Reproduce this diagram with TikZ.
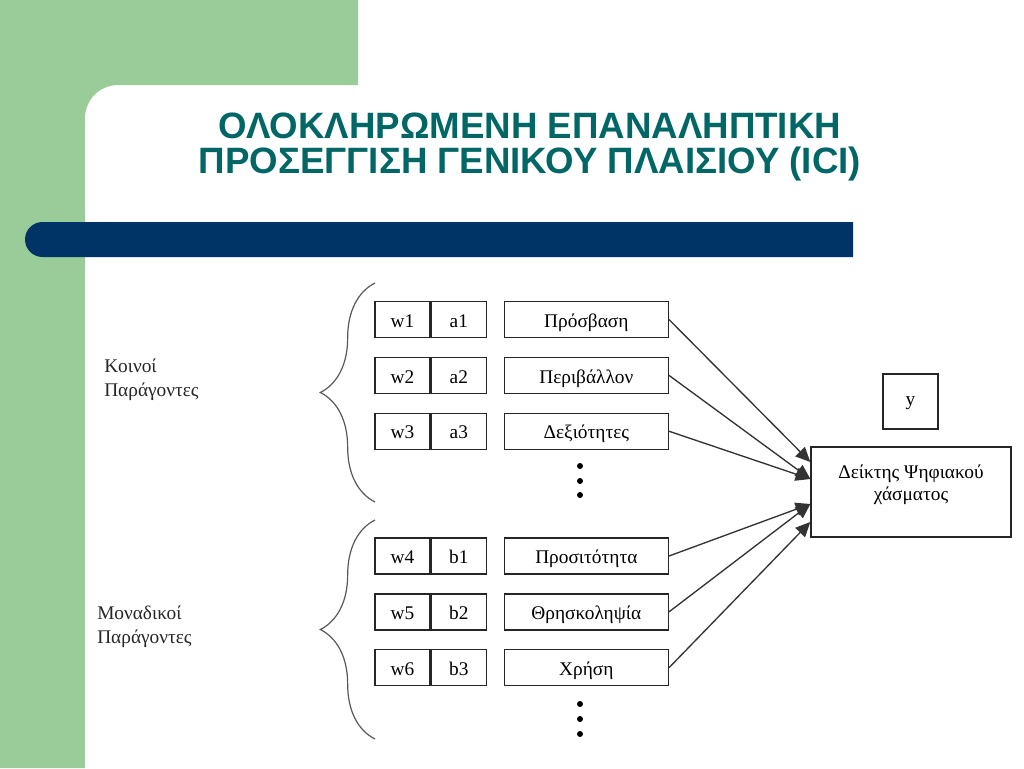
\documentclass[tikz,border=0pt]{standalone}
\usepackage{fontspec}
\setmainfont{Liberation Serif}
\newfontfamily\titlefont{Liberation Sans}
\usepackage{tikz}
\usetikzlibrary{arrows.meta, positioning, calc, decorations.pathreplacing}
\definecolor{slidegreen}{RGB}{153,204,153}
\definecolor{slideteal}{RGB}{0,102,102}
\definecolor{slidenavy}{RGB}{0,51,102}
\tikzstyle{cell} = [rectangle, draw=black!85, line width=1pt, minimum width=41.25pt,
    minimum height=27pt, inner sep=0pt, text centered, text height=12.5pt, text depth=1pt,
    font=\fontsize{14.5}{17}\selectfont]
\tikzstyle{factor} = [cell, minimum width=123pt]
\tikzstyle{vdot} = [circle, fill=black, inner sep=0pt, minimum size=4.5pt]
\tikzstyle{grouplabel} = [anchor=west, align=left, inner sep=0pt, text=black!85,
    font=\fontsize{14.5}{18}\selectfont]
\tikzstyle{arrow} = [line width=1pt, draw=black!80, -{Triangle[length=11pt,width=10pt]}]
\tikzstyle{bracket} = [line width=0.9pt, draw=black!65, decorate,
    decoration={brace, amplitude=41pt}]

\begin{document}
\begin{tikzpicture}[x=0.75pt, y=-0.75pt, node distance=13.9pt and 12.5pt]
  \useasboundingbox (0,0) rectangle (1024,768);
  \fill[white] (0,0) rectangle (1024,768);

  % slide background
  \fill[slidegreen] (0,0) -- (358,0) -- (358,85) -- (118,85)
        arc[start angle=270, end angle=180, radius=33] -- (85,768) -- (0,768) -- cycle;
  \fill[slidenavy] (853,222) -- (42.5,222)
        arc[start angle=270, end angle=90, radius=17.5] -- (853,257) -- cycle;

  \node (title) [font={\titlefont\bfseries\fontsize{27.5}{26}\selectfont},
        text=slideteal, align=center] at (530,147)
        {ΟΛΟΚΛΗΡΩΜΕΝΗ ΕΠΑΝΑΛΗΠΤΙΚΗ\\ΠΡΟΣΕΓΓΙΣΗ ΓΕΝΙΚΟΥ ΠΛΑΙΣΙΟΥ (ICI)};

  % common factors
  \node (w1)   [cell] at (402.5,319.5) {w1};
  \node (a1)   [cell, right=0pt of w1] {a1};
  \node (lbl1) [factor, right=of a1] {Πρόσβαση};
  \node (w2)   [cell, below=of w1] {w2};
  \node (a2)   [cell, right=0pt of w2] {a2};
  \node (lbl2) [factor, right=of a2] {Περιβάλλον};
  \node (w3)   [cell, below=of w2] {w3};
  \node (a3)   [cell, right=0pt of w3] {a3};
  \node (lbl3) [factor, right=of a3] {Δεξιότητες};

  % unique factors
  \node (w4)   [cell] at (402.5,556) {w4};
  \node (b1)   [cell, right=0pt of w4] {b1};
  \node (lbl4) [factor, right=of b1] {Προσιτότητα};
  \node (w5)   [cell, below=of w4] {w5};
  \node (b2)   [cell, right=0pt of w5] {b2};
  \node (lbl5) [factor, right=of b2] {Θρησκοληψία};
  \node (w6)   [cell, below=of w5] {w6};
  \node (b3)   [cell, right=0pt of w6] {b3};
  \node (lbl6) [factor, right=of b3] {Χρήση};

  \foreach \n/\y in {d1/466, d2/481, d3/495, d4/704, d5/719, d6/734}
    \node (\n) [vdot] at (580,\y) {};

  \node (common) [grouplabel] at (104,380) {Κοινοί\\Παράγοντες};
  \node (unique) [grouplabel] at (97,627) {Μοναδικοί\\Παράγοντες};
  \draw[bracket] (375,502) -- (375,283);
  \draw[bracket] (375,739) -- (375,520);

  % index
  \node (yout) [cell, minimum width=41.25pt, minimum height=41.25pt,
        text height=9.5pt, text depth=3pt] at (910.5,401.5) {y};
  \node (dgi)  [cell, minimum width=150pt, minimum height=67.5pt, align=center,
        text height=, text depth=14pt] at (911,492) {Δείκτης Ψηφιακού\\χάσματος};

  \coordinate (in1) at ($(dgi.west)+(0,-30)$);
  \coordinate (in2) at ($(dgi.west)+(0,-13)$);
  \coordinate (in3) at ($(dgi.west)+(0,12)$);
  \coordinate (in4) at ($(dgi.west)+(0,30)$);

  \foreach \a/\b in {lbl1/in1, lbl2/in2, lbl3/in2, lbl4/in3, lbl5/in3, lbl6/in4}
    \draw[arrow] (\a.east) -- (\b);

\end{tikzpicture}
\end{document}
